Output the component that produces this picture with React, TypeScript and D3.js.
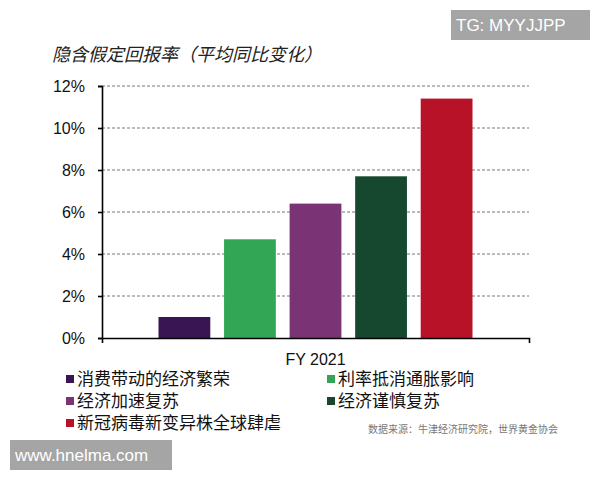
import React, { useEffect, useRef } from "react";
import * as d3 from "d3";

const categories = ["FY 2021"];
const seriesNames = [
  "消费带动的经济繁荣",
  "利率抵消通胀影响",
  "经济加速复苏",
  "经济谨慎复苏",
  "新冠病毒新变异株全球肆虐",
];
const seriesValues = [1.0, 4.7, 6.4, 7.7, 11.4];
const yTicks = [0, 2, 4, 6, 8, 10, 12];
const palette = ["#3a1553", "#32a654", "#7a3476", "#15482f", "#b81228"];

const titleText = "隐含假定回报率（平均同比变化）";
const sourceText = "数据来源：牛津经济研究院，世界黄金协会";

const W = 600;
const H = 480;
const LATIN = "'Liberation Sans', Arial, sans-serif";
const CJK = "'Noto Sans CJK SC', 'Noto Sans', sans-serif";

export default function App() {
  const ref = useRef<SVGSVGElement | null>(null);

  useEffect(() => {
    const svg = d3.select(ref.current);
    svg.selectAll("*").remove();

    const left = 102, right = 529, top = 86, bottom = 338;

    const x0 = d3.scaleBand<string>().domain(categories).range([left, right]).padding(0.1525);
    const x1 = d3
      .scaleBand<string>()
      .domain(seriesNames)
      .range([0, x0.bandwidth()])
      .paddingInner(0.21)
      .paddingOuter(0);
    const y = d3.scaleLinear().domain([0, 12]).range([bottom, top]);

    // title
    svg
      .append("text")
      .attr("x", 52)
      .attr("y", 61)
      .attr("font-family", CJK)
      .attr("font-size", 18)
      .attr("font-style", "italic")
      .attr("fill", "#222")
      .text(titleText);

    // gridlines
    svg
      .append("g")
      .selectAll("line")
      .data(yTicks.filter((t) => t > 0))
      .join("line")
      .attr("x1", left)
      .attr("x2", right)
      .attr("y1", (d) => y(d))
      .attr("y2", (d) => y(d))
      .attr("stroke", "#777")
      .attr("stroke-width", 1)
      .attr("stroke-dasharray", "3,2");

    // bars
    const g = svg.append("g");
    categories.forEach((cat) => {
      g.selectAll(null)
        .data(seriesValues)
        .join("rect")
        .attr("x", (_, i) => (x0(cat) as number) + (x1(seriesNames[i]) as number))
        .attr("width", x1.bandwidth())
        .attr("y", (d) => y(d))
        .attr("height", (d) => y(0) - y(d))
        .attr("fill", (_, i) => palette[i]);
    });

    // y axis
    const yAxis = d3
      .axisLeft(y)
      .tickValues(yTicks)
      .tickSize(4)
      .tickPadding(13)
      .tickFormat((d) => `${d}%`);
    const yg = svg.append("g").attr("transform", `translate(${left},0)`).call(yAxis);
    yg.selectAll("path,line").attr("stroke", "#000").attr("stroke-width", 1.6);
    yg.selectAll("text").attr("font-family", LATIN).attr("font-size", 16).attr("fill", "#111");

    // x axis
    const xAxis = d3.axisBottom(x0).tickSizeInner(0).tickSizeOuter(5).tickPadding(16);
    const xg = svg.append("g").attr("transform", `translate(0,${bottom})`).call(xAxis);
    xg.selectAll("path,line").attr("stroke", "#000").attr("stroke-width", 1.6);
    xg.selectAll("text").attr("font-family", LATIN).attr("font-size", 16).attr("fill", "#111");

    // legend
    const legX = [66, 327];
    const legY = [379, 401, 423];
    const lg = svg.append("g");
    seriesNames.forEach((name, i) => {
      const cx = legX[i % 2];
      const cy = legY[Math.floor(i / 2)];
      lg.append("rect")
        .attr("x", cx)
        .attr("y", cy - 4)
        .attr("width", 8)
        .attr("height", 8)
        .attr("fill", palette[i]);
      lg.append("text")
        .attr("x", cx + 11)
        .attr("y", cy)
        .attr("dy", "0.36em")
        .attr("font-family", CJK)
        .attr("font-size", 17)
        .attr("fill", "#111")
        .text(name);
    });

    // source
    svg
      .append("text")
      .attr("x", 368)
      .attr("y", 429)
      .attr("dy", "0.36em")
      .attr("font-family", CJK)
      .attr("font-size", 10)
      .attr("fill", "#777")
      .text(sourceText);

    // watermark badges
    svg.append("rect").attr("x", 451).attr("y", 10).attr("width", 139).attr("height", 30).attr("fill", "#a5a5a5");
    svg
      .append("text")
      .attr("x", 456)
      .attr("y", 25)
      .attr("dy", "0.36em")
      .attr("font-family", LATIN)
      .attr("font-size", 17)
      .attr("fill", "#fff")
      .text("TG: MYYJJPP");

    svg.append("rect").attr("x", 10).attr("y", 440).attr("width", 162).attr("height", 30).attr("fill", "#a5a5a5");
    svg
      .append("text")
      .attr("x", 15)
      .attr("y", 455)
      .attr("dy", "0.36em")
      .attr("font-family", LATIN)
      .attr("font-size", 17)
      .attr("fill", "#fff")
      .text("www.hnelma.com");
  }, []);

  return (
    <svg
      ref={ref}
      width={W}
      height={H}
      style={{ position: "absolute", left: 0, top: 0, background: "#fff" }}
    />
  );
}
